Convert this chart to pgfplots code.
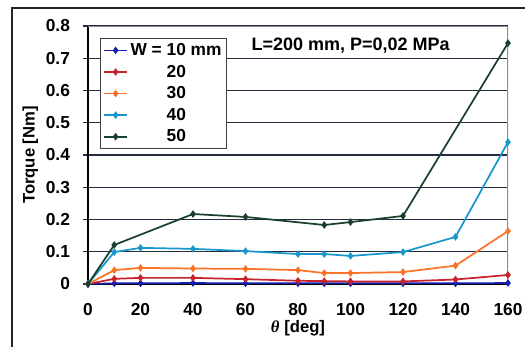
\documentclass[border=0pt]{standalone}
\usepackage{fontspec}
\setmainfont{Liberation Sans}
\newfontfamily\seriffont{Liberation Serif}
\usepackage{pgfplots}
\pgfplotsset{compat=1.18}
\definecolor{c10}{RGB}{20,30,170}
\definecolor{c20}{RGB}{200,35,45}
\definecolor{c30}{RGB}{250,115,40}
\definecolor{c40}{RGB}{25,150,205}
\definecolor{c50}{RGB}{25,65,45}
\definecolor{gridc}{RGB}{35,45,65}
\begin{document}
\begin{tikzpicture}
\begin{axis}[
  at={(66pt,47.25pt)}, anchor=south west,
  scale only axis, width=315pt, height=193.5pt,
  xmin=0, xmax=160, ymin=0, ymax=0.8,
  xtick={0,20,40,60,80,100,120,140,160},
  ytick={0,0.1,0.2,0.3,0.4,0.5,0.6,0.7,0.8},
  yticklabels={0,0.1,0.2,0.3,0.4,0.5,0.6,0.7,0.8},
  axis x line*=bottom, axis y line*=left,
  axis line style={black, line width=1pt, -},
  ymajorgrids, grid style={gridc, line width=1pt},
  tick align=outside,
  major tick length=4pt,
  xtick style={draw=none},
  ytick style={gridc, line width=1pt},
  /pgf/number format/assume math mode=true,
  tick label style={font=\bfseries\fontsize{13}{13}\selectfont},
  xticklabel style={yshift=-7pt},
  yticklabel style={xshift=-6pt},
  xlabel={{\seriffont\bfseries\itshape θ} [deg]},
  ylabel={Torque [Nm]},
  label style={font=\bfseries\fontsize{12.5}{13}\selectfont},
  xlabel style={yshift=3pt},
  ylabel style={yshift=-1pt},
  legend style={at={(0.029,0.953)}, anchor=north west, draw=black!75, line width=0.8pt,
    fill=white, font=\bfseries\fontsize{13}{13}\selectfont, row sep=1.6pt,
    inner xsep=2pt, inner ysep=1.5pt},
  legend cell align=left,
  every axis plot/.append style={line width=1.3pt, mark=diamond*, mark size=1.8pt},
]
\addplot[c10, mark options={fill=c10}] coordinates {(0,0) (10,0.002) (20,0.002) (40,0.003) (60,0.002) (80,0.002) (90,0.002) (100,0.002) (120,0.002) (140,0.002) (160,0.003)};
\addlegendentry{W = 10 mm}
\addplot[c20, mark options={fill=c20}] coordinates {(0,0) (10,0.016) (20,0.019) (40,0.019) (60,0.015) (80,0.010) (90,0.009) (100,0.008) (120,0.008) (140,0.014) (160,0.028)};
\addlegendentry{\phantom{W = }20}
\addplot[c30, mark options={fill=c30}] coordinates {(0,0) (10,0.043) (20,0.050) (40,0.048) (60,0.047) (80,0.043) (90,0.034) (100,0.034) (120,0.037) (140,0.057) (160,0.164)};
\addlegendentry{\phantom{W = }30}
\addplot[c40, mark options={fill=c40}] coordinates {(0,0) (10,0.099) (20,0.112) (40,0.109) (60,0.102) (80,0.093) (90,0.093) (100,0.087) (120,0.099) (140,0.146) (160,0.440)};
\addlegendentry{\phantom{W = }40}
\addplot[c50, mark options={fill=c50}] coordinates {(0,0) (10,0.121) (40,0.217) (60,0.208) (90,0.183) (100,0.192) (120,0.211) (160,0.747)};
\addlegendentry{\phantom{W = }50}
\draw[black!45, line width=0.8pt] (axis cs:0,0.8) -- (axis cs:160,0.8) -- (axis cs:160,0);
\node[anchor=west, font=\bfseries\fontsize{13.5}{13.5}\selectfont] at (axis cs:60.5,0.738) {L=200 mm, P=0,02 MPa};
\end{axis}
\pgfresetboundingbox
\useasboundingbox (0,0) rectangle (393.75pt,260.25pt);
\draw[black!85, line width=1.5pt] (9pt,0) -- (9pt,254.25pt) -- (393.75pt,254.25pt);
\end{tikzpicture}
\end{document}
